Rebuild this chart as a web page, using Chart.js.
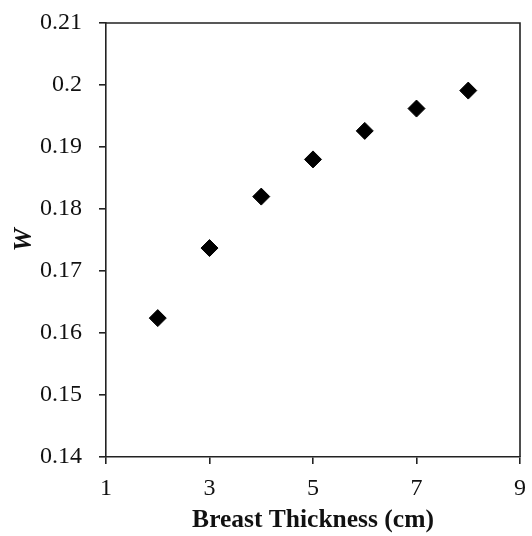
<!DOCTYPE html>
<html lang="en">
<head>
    <meta charset="UTF-8">
    <title>W vs Breast Thickness</title>
    <style>
        html, body { margin: 0; padding: 0; background: #fff; }
        #wrap { width: 532px; height: 536px; }
    </style>
</head>
<body>
    <div id="wrap"><canvas id="myChart"></canvas></div>
    <script src="https://cdn.jsdelivr.net/npm/chart.js"></script>
    <script>
        // values
        const thickness = [2, 3, 4, 5, 6, 7, 8];
        const wValues = [0.1624, 0.1737, 0.1820, 0.1880, 0.1926, 0.1962, 0.1991];
        const xTicks = [1, 3, 5, 7, 9];
        const yTicks = [0.14, 0.15, 0.16, 0.17, 0.18, 0.19, 0.2, 0.21];

        const serif = "'Liberation Serif', 'Times New Roman', serif";
        const ink = '#222';

        // draws the top and right edges of the plot box
        const frame = {
            id: 'frame',
            afterDraw(chart) {
                const a = chart.chartArea;
                const ctx = chart.ctx;
                ctx.save();
                ctx.strokeStyle = ink;
                ctx.lineWidth = 1.6;
                ctx.beginPath();
                ctx.moveTo(a.left, a.top);
                ctx.lineTo(a.right, a.top);
                ctx.lineTo(a.right, a.bottom);
                ctx.stroke();
                ctx.restore();
            }
        };

        const config = {
            type: 'scatter',
            data: {
                datasets: [{
                    data: thickness.map((x, i) => ({ x: x, y: wValues[i] })),
                    pointStyle: 'rectRot',
                    pointRadius: 8.5,
                    pointBorderWidth: 1,
                    backgroundColor: '#000',
                    borderColor: '#000'
                }]
            },
            options: {
                responsive: false,
                animation: false,
                layout: { padding: { top: 23, right: 12, left: 6, bottom: 0 } },
                plugins: { legend: { display: false }, tooltip: { enabled: false } },
                scales: {
                    x: {
                        type: 'linear',
                        min: 1,
                        max: 9,
                        afterBuildTicks: axis => { axis.ticks = xTicks.map(v => ({ value: v })); },
                        afterFit: axis => {
                            axis.height = 79;
                            axis.paddingLeft = 0;
                            axis.paddingRight = 0;
                        },
                        grid: { drawOnChartArea: false, tickLength: 7, color: ink, lineWidth: 1.6 },
                        border: { color: ink, width: 1.6 },
                        ticks: { color: '#111', padding: 10, font: { family: serif, size: 24 } },
                        title: {
                            display: true,
                            text: 'Breast Thickness (cm)',
                            color: '#111',
                            padding: { top: 0, bottom: 0 },
                            font: { family: serif, size: 25.5, weight: 'bold' }
                        }
                    },
                    y: {
                        min: 0.14,
                        max: 0.21,
                        afterBuildTicks: axis => { axis.ticks = yTicks.map(v => ({ value: v })); },
                        afterFit: axis => {
                            axis.width = 100;
                            axis.paddingTop = 0;
                            axis.paddingBottom = 0;
                        },
                        grid: { drawOnChartArea: false, tickLength: 7, color: ink, lineWidth: 1.6 },
                        border: { color: ink, width: 1.6 },
                        ticks: {
                            color: '#111',
                            padding: 17,
                            font: { family: serif, size: 24 },
                            callback: v => String(Math.round(v * 100) / 100)
                        },
                        title: {
                            display: true,
                            text: 'W',
                            color: '#111',
                            padding: { top: 3, bottom: 0 },
                            font: { family: serif, size: 26, weight: 'bold', style: 'italic' }
                        }
                    }
                }
            },
            plugins: [frame]
        };

        const canvas = document.getElementById('myChart');
        canvas.width = 532;
        canvas.height = 536;
        new Chart(canvas, config);
    </script>
</body>
</html>
